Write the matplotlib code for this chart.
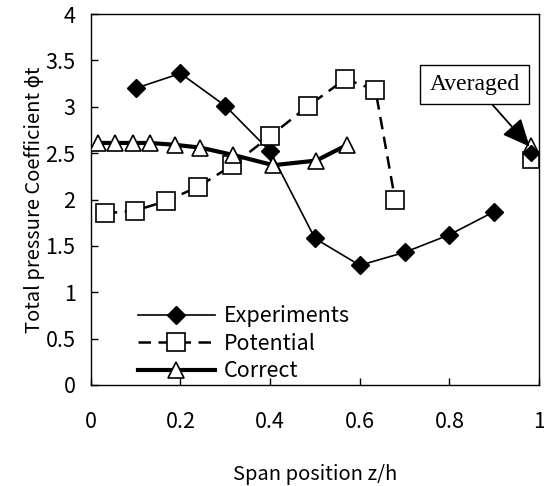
import matplotlib
matplotlib.use("Agg")
import matplotlib.pyplot as plt

# Data
exp_z = [0.1, 0.2, 0.3, 0.4, 0.5, 0.6, 0.7, 0.8, 0.9]
exp_phi = [3.20, 3.36, 3.01, 2.52, 1.58, 1.29, 1.43, 1.62, 1.87]

pot_z = [0.031, 0.098, 0.167, 0.24, 0.316, 0.399, 0.485, 0.568, 0.635, 0.679]
pot_phi = [1.85, 1.88, 1.98, 2.14, 2.37, 2.68, 3.01, 3.30, 3.18, 1.99]

cor_z = [0.016, 0.053, 0.093, 0.132, 0.187, 0.244, 0.318, 0.407, 0.503, 0.572]
cor_phi = [2.61, 2.61, 2.61, 2.61, 2.59, 2.56, 2.48, 2.37, 2.42, 2.59]

avg_z = 0.983
avg_exp = 2.50
avg_pot = 2.43
avg_cor = 2.58

xticks = [0, 0.2, 0.4, 0.6, 0.8, 1.0]
xticklabels = ["0", "0.2", "0.4", "0.6", "0.8", "1"]
yticks = [0, 0.5, 1, 1.5, 2, 2.5, 3, 3.5, 4]
yticklabels = ["0", "0.5", "1", "1.5", "2", "2.5", "3", "3.5", "4"]

plt.rcParams['font.family'] = ['Noto Sans CJK JP', 'DejaVu Sans']

fig = plt.figure(figsize=(5.44, 4.86), dpi=100)
ax = fig.add_axes([0.167, 0.208, 0.824, 0.763])

ax.plot(exp_z, exp_phi, color='black', lw=1.2, marker='D', ms=9,
        mfc='black', mec='black', label='Experiments', zorder=2)
ax.plot(pot_z, pot_phi, color='black', lw=1.8, ls=(0, (5, 3)), marker='s', ms=12.5,
        mfc='white', mec='black', mew=1.2, label='Potential', zorder=3)
ax.plot(cor_z, cor_phi, color='black', lw=3.0, marker='^', ms=12,
        mfc='white', mec='black', mew=1.2, label='Correct', zorder=4)

# Averaged points
ax.plot([avg_z], [avg_pot], ls='none', marker='s', ms=11, mfc='white', mec='black', mew=1.2, zorder=5, clip_on=False)
ax.plot([avg_z], [avg_cor], ls='none', marker='^', ms=11, mfc='white', mec='black', mew=1.2, zorder=6, clip_on=False)
ax.plot([avg_z], [avg_exp], ls='none', marker='D', ms=8, mfc='black', mec='black', zorder=7, clip_on=False)

ax.annotate('Averaged', xy=(avg_z - 0.004, avg_exp + 0.07), xytext=(0.856, 3.24),
            ha='center', va='center', fontsize=17, family='Liberation Serif',
            bbox=dict(boxstyle='square,pad=0.38', fc='white', ec='black', lw=1),
            arrowprops=dict(arrowstyle='-|>,head_length=1.0,head_width=0.45',
                            color='black', lw=1.3, shrinkA=0, shrinkB=0),
            zorder=8)

ax.set_xlim(0, 1)
ax.set_ylim(0, 4)
ax.set_xticks(xticks)
ax.set_xticklabels(xticklabels)
ax.set_yticks(yticks)
ax.set_yticklabels(yticklabels)
ax.tick_params(axis='both', direction='in', length=5, width=1, labelsize=15.5)
ax.tick_params(axis='x', pad=19)
ax.tick_params(axis='y', pad=11)
for s in ax.spines.values():
    s.set_linewidth(1.0)

ax.set_xlabel('Span position z/h', fontsize=14.5, labelpad=22)
ax.set_ylabel('Total pressure Coefficient \u03d5t', fontsize=14.5, labelpad=0)

leg = ax.legend(loc='lower left', bbox_to_anchor=(0.085, -0.016), frameon=False,
                fontsize=15.5, handlelength=3.6, handletextpad=0.4, labelspacing=0.25,
                borderaxespad=0.0)

fig.savefig('out.png', dpi=100)
